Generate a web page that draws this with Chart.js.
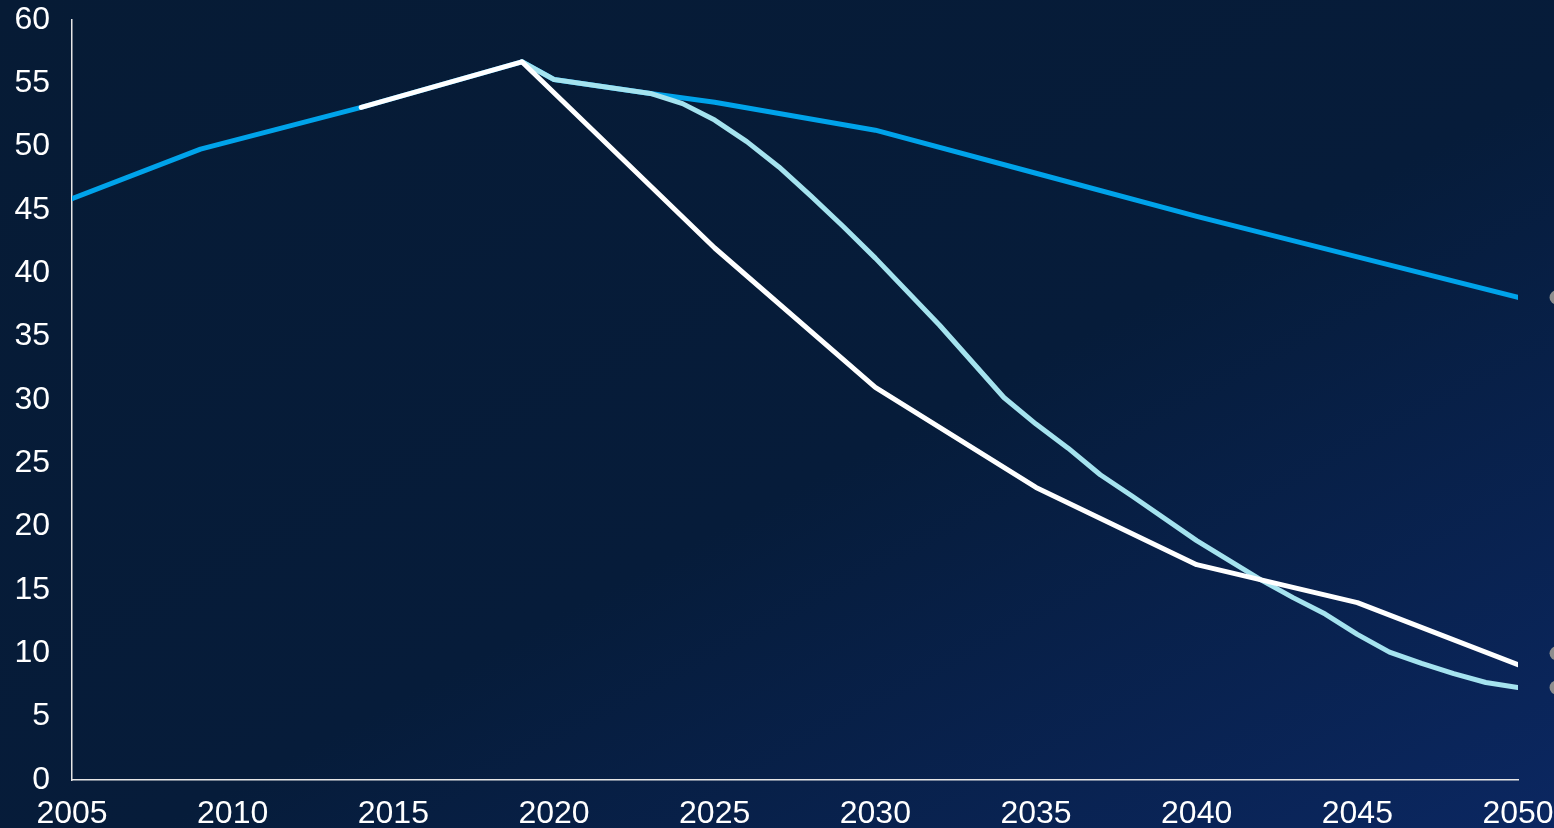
<!DOCTYPE html>
<html>
<head>
<meta charset="utf-8">
<script src="https://cdn.jsdelivr.net/npm/chart.js@4"></script>
<style>
    html, body { margin: 0; padding: 0; }
    body {
        width: 1554px;
        height: 828px;
        overflow: hidden;
        background: linear-gradient(to bottom right, #061b35 0%, #061c3a 55%, #0b2761 100%);
    }
    .chart-box { position: relative; width: 1554px; height: 828px; }
</style>
</head>
<body>
<div class="chart-box"><canvas id="emissionsChart"></canvas></div>
<script>
// Valores
const yearsBase = [2005, 2009, 2014, 2019, 2020, 2023, 2025, 2030, 2035, 2040, 2045, 2050];
const valuesBase = [45.9, 49.8, 53.1, 56.7, 55.3, 54.2, 53.5, 51.3, 47.9, 44.5, 41.3, 38.1];

const yearsFast = [2019, 2020, 2023, 2024, 2025, 2026, 2027, 2028, 2029, 2030, 2032, 2034, 2035, 2036, 2037, 2038, 2040, 2042, 2043, 2044, 2045, 2046, 2047, 2048, 2049, 2050];
const valuesFast = [56.7, 55.3, 54.2, 53.4, 52.1, 50.4, 48.4, 46.1, 43.7, 41.2, 35.9, 30.2, 28.1, 26.2, 24.1, 22.4, 18.9, 15.8, 14.4, 13.1, 11.5, 10.1, 9.2, 8.4, 7.7, 7.3];

const yearsTarget = [2014, 2019, 2025, 2030, 2035, 2040, 2045, 2050];
const valuesTarget = [53.1, 56.7, 42.0, 31.0, 23.1, 17.0, 14.0, 9.1];

// Marcadores grises al borde derecho (etiquetas cortadas)
const markerYear = 2051.2;
const markerValues = [38.1, 10.0, 7.3];

const xTicks = [2005, 2010, 2015, 2020, 2025, 2030, 2035, 2040, 2045, 2050];
const yTicks = [0, 5, 10, 15, 20, 25, 30, 35, 40, 45, 50, 55, 60];

function toPoints(xs, ys) {
    return xs.map((x, i) => ({ x: x, y: ys[i] }));
}

const lineStyle = {
    borderWidth: 5,
    pointRadius: 0,
    tension: 0,
    borderCapStyle: 'round',
    borderJoinStyle: 'round',
    fill: false,
    showLine: true
};

// Los puntos fuera del área no los dibuja Chart.js, así que van con un plugin
const edgeMarkers = {
    id: 'edgeMarkers',
    afterDatasetsDraw(chart) {
        const { ctx, scales } = chart;
        const px = scales.x.getPixelForValue(markerYear);
        ctx.save();
        ctx.fillStyle = '#8e8e8e';
        markerValues.forEach(v => {
            ctx.beginPath();
            ctx.arc(px, scales.y.getPixelForValue(v), 7, 0, Math.PI * 2);
            ctx.fill();
        });
        ctx.restore();
    }
};

const ctx = document.getElementById('emissionsChart');
new Chart(ctx, {
    type: 'scatter',
    data: {
        datasets: [
            { ...lineStyle, data: toPoints(yearsTarget, valuesTarget), borderColor: '#ffffff' },
            { ...lineStyle, data: toPoints(yearsFast, valuesFast), borderColor: '#a5e3ef' },
            { ...lineStyle, data: toPoints(yearsBase, valuesBase), borderColor: '#00a3ea' }
        ]
    },
    plugins: [edgeMarkers],
    options: {
        responsive: true,
        maintainAspectRatio: false,
        animation: false,
        layout: { padding: { top: 20, right: 36, left: 0, bottom: 0 } },
        plugins: {
            legend: { display: false },
            tooltip: { enabled: false }
        },
        scales: {
            x: {
                type: 'linear',
                min: 2005,
                max: 2050,
                afterFit: (scale) => {
                    scale.height = 48;
                    scale.paddingLeft = 0;
                    scale.paddingRight = 0;
                },
                afterBuildTicks: (scale) => { scale.ticks = xTicks.map(v => ({ value: v })); },
                grid: { display: false, drawTicks: false },
                border: { display: true, color: '#e6e6e6', width: 1.5 },
                ticks: {
                    color: '#ffffff',
                    padding: 15,
                    maxRotation: 0,
                    autoSkip: false,
                    font: { family: 'Liberation Sans', size: 32 },
                    callback: (value) => String(value)
                }
            },
            y: {
                min: 0,
                max: 60,
                afterFit: (scale) => {
                    scale.width = 72;
                    scale.paddingTop = 0;
                    scale.paddingBottom = 0;
                },
                afterBuildTicks: (scale) => { scale.ticks = yTicks.map(v => ({ value: v })); },
                grid: { display: false, drawTicks: false },
                border: { display: true, color: '#e6e6e6', width: 1.5 },
                ticks: {
                    color: '#ffffff',
                    padding: 22,
                    font: { family: 'Liberation Sans', size: 32 },
                    callback: (value) => String(value)
                }
            }
        }
    }
});
</script>
</body>
</html>
